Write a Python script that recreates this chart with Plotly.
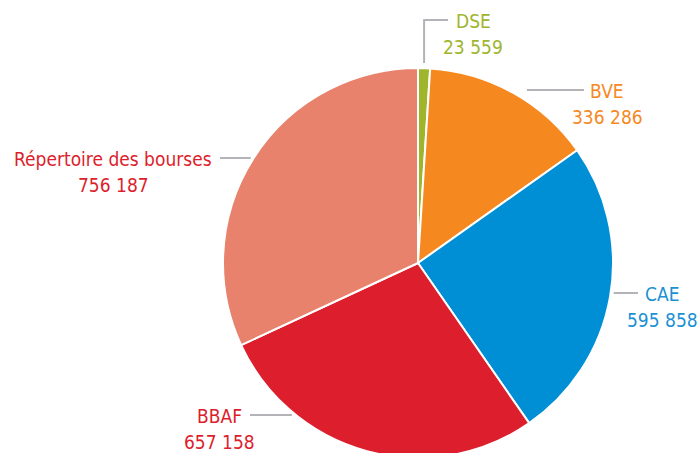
import math
import plotly.graph_objects as go

# ---- data ----
categories = ["DSE", "BVE", "CAE", "BBAF", "Répertoire des bourses"]
values = [23559, 336286, 595858, 657158, 756187]
slice_colors = ["#9eb52c", "#f5891f", "#008fd5", "#dc1e2d", "#e8826c"]
label_colors = ["#9eb52c", "#f5891f", "#1a91d3", "#dc1e2d", "#dc1e2d"]

W, H = 698, 458          # figure slightly taller than the 453px view: bottom of pie is cropped
CX, CY, R = 418, 263, 195  # pie centre / radius in pixels (top-left origin)

FONT = "DejaVu Sans Condensed, Liberation Sans Narrow, sans-serif"
FS = 19
GRAY = "#b4b4b8"

def px(x):
    return x / W

def py(y):
    return 1 - y / H

fig = go.Figure(go.Pie(
    labels=categories,
    values=values,
    sort=False,
    direction="clockwise",
    rotation=0,
    marker=dict(colors=slice_colors, line=dict(color="white", width=2)),
    textinfo="none",
    hoverinfo="label+value",
    domain=dict(x=[px(CX - R), px(CX + R)], y=[py(CY + R), py(CY - R)]),
    showlegend=False,
))

# mid-angles of slices (degrees clockwise from 12 o'clock), from the data
total = sum(values)
mids = []
acc = 0
for v in values:
    mids.append((acc + v / 2) / total * 360)
    acc += v

def edge_x(y, side):
    dy = y - CY
    dx = math.sqrt(max(R * R - dy * dy, 0))
    return CX + side * dx

# label layout: text centre x, first-line y, leader line params
layout_specs = {
    "DSE": dict(tx=473, ty=20, kind="elbow", end=448, gap=5),
    "BVE": dict(tx=607, ty=90, kind="right", end=584, gap=19),
    "CAE": dict(tx=662, ty=293, kind="right", end=638, gap=3),
    "BBAF": dict(tx=219, ty=415, kind="left", end=250, gap=4),
    "Répertoire des bourses": dict(tx=113, ty=158, kind="left", end=220, gap=3),
}

shapes = []
annotations = []
for cat, val, col, mid in zip(categories, values, label_colors, mids):
    s = layout_specs[cat]
    ty = s["ty"]
    if s["kind"] == "elbow":
        a = math.radians(mid)
        x0 = CX + R * math.sin(a)
        y0 = CY - R * math.cos(a) - s["gap"]
        path = f"M {px(x0)} {py(y0)} L {px(x0)} {py(ty)} L {px(s['end'])} {py(ty)}"
        shapes.append(dict(type="path", xref="paper", yref="paper", path=path,
                           line=dict(color=GRAY, width=2)))
    elif s["kind"] == "right":
        x0 = edge_x(ty, 1) + s["gap"]
        shapes.append(dict(type="line", xref="paper", yref="paper",
                           x0=px(x0), y0=py(ty), x1=px(s["end"]), y1=py(ty),
                           line=dict(color=GRAY, width=2)))
    else:
        x0 = edge_x(ty, -1) - s["gap"]
        shapes.append(dict(type="line", xref="paper", yref="paper",
                           x0=px(s["end"]), y0=py(ty), x1=px(x0), y1=py(ty),
                           line=dict(color=GRAY, width=2)))
    num = f"{val:,}".replace(",", " ")
    for i, txt in enumerate([cat, num]):
        annotations.append(dict(
            x=px(s["tx"]), y=py(ty + 1 + i * 25.6), xref="paper", yref="paper",
            text=txt, showarrow=False, xanchor="center", yanchor="middle",
            font=dict(family=FONT, size=FS, color=col),
        ))

fig.update_layout(
    width=W, height=H,
    margin=dict(l=0, r=0, t=0, b=0),
    paper_bgcolor="white",
    plot_bgcolor="white",
    shapes=shapes,
    annotations=annotations,
)

fig.write_html(
    "out.html",
    config={"displayModeBar": False},
    post_script="document.body.style.margin='0';document.body.style.overflow='hidden';",
)
